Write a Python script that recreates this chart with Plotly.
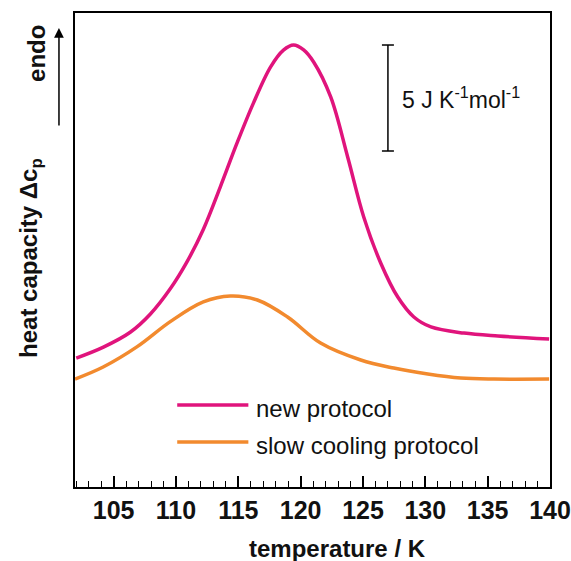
import plotly.graph_objects as go

# ---- data ----
new_T = [102.0, 104.18, 106.33, 107.93, 109.54, 110.88, 112.19, 113.55, 114.90, 116.21,
         117.58, 118.62, 119.43, 120.24, 121.04, 122.41, 123.77, 125.06, 126.42, 127.79,
         129.08, 130.45, 133.10, 135.83, 139.93]
new_cp = [6.08, 6.60, 7.30, 8.15, 9.35, 10.62, 12.15, 14.15, 16.23, 18.11,
          19.81, 20.61, 20.85, 20.62, 20.05, 18.40, 15.57, 12.74, 10.57, 8.96,
          8.02, 7.55, 7.26, 7.12, 6.98]

slow_T = [101.9, 104.16, 106.89, 109.54, 112.19, 114.36, 116.53, 118.95, 121.60, 124.82,
          127.47, 130.20, 132.85, 135.50, 139.93]
slow_cp = [5.09, 5.66, 6.62, 7.80, 8.73, 9.01, 8.82, 8.02, 6.79, 5.99,
           5.61, 5.33, 5.14, 5.09, 5.09]

series_names = ["new protocol", "slow cooling protocol"]
series_colors = ["#E0147C", "#F28A2E"]

x_ticks = [105, 110, 115, 120, 125, 130, 135, 140]
x_range = [101.9, 140.0]
y_range = [0, 22.36]

scale_value = 5          # J K^-1 mol^-1
scale_T = 127.0
scale_top = 20.85

FONT = "Liberation Sans, Arial, sans-serif"

fig = go.Figure()
fig.add_trace(go.Scatter(x=new_T, y=new_cp, mode="lines", name=series_names[0],
                         line=dict(color=series_colors[0], width=3.5, shape="spline", smoothing=1.0)))
fig.add_trace(go.Scatter(x=slow_T, y=slow_cp, mode="lines", name=series_names[1],
                         line=dict(color=series_colors[1], width=3.5, shape="spline", smoothing=1.0)))

fig.update_layout(
    width=571, height=561,
    margin=dict(l=75, r=21, t=13, b=74, autoexpand=False),
    paper_bgcolor="white", plot_bgcolor="white",
    showlegend=False,
    font=dict(family=FONT, color="black"),
)

fig.update_xaxes(
    range=x_range, tickvals=x_ticks, ticks="inside", ticklen=11, tickwidth=1.5,
    tickcolor="black", showline=True, linecolor="black", linewidth=2, mirror=True,
    showgrid=False, zeroline=False, automargin=False,
    tickfont=dict(family=FONT, size=25, color="#111", weight="bold"),
    ticklabelstandoff=0,
    minor=dict(dtick=1, ticks="inside", ticklen=6, tickwidth=1.2, tickcolor="black", showgrid=False),
)
fig.update_yaxes(
    range=y_range, showticklabels=False, ticks="", showline=True, linecolor="black",
    linewidth=2, mirror=True, showgrid=False, zeroline=False, automargin=False,
)

# x title
fig.add_annotation(text="<b>temperature / K</b>", xref="paper", yref="paper",
                   x=(337 - 75) / 474, y=(487 - 548) / 474, showarrow=False,
                   xanchor="center", yanchor="middle", font=dict(size=24, color="#111"))
# y title
fig.add_annotation(text="<b>heat capacity Δc<sub>p</sub></b>", xref="paper", yref="paper",
                   x=(30 - 75) / 474, y=(487 - 258) / 474, showarrow=False, textangle=-90,
                   xanchor="center", yanchor="middle", font=dict(size=24, color="#111"))
# endo label + arrow
fig.add_annotation(text="<b>endo</b>", xref="paper", yref="paper",
                   x=(37 - 75) / 474, y=(487 - 53) / 474, showarrow=False, textangle=-90,
                   xanchor="center", yanchor="middle", font=dict(size=24, color="#111"))
fig.add_annotation(text="", xref="paper", yref="paper",
                   x=(59 - 75) / 474, y=(487 - 28) / 474, ax=0, ay=99,
                   showarrow=True, arrowhead=2, arrowsize=1.3, arrowwidth=1.5, arrowcolor="black")

# scale bar
cap = 0.48
fig.add_shape(type="line", x0=scale_T, x1=scale_T, y0=scale_top - scale_value, y1=scale_top,
              line=dict(color="black", width=1.5))
for yy in (scale_top - scale_value, scale_top):
    fig.add_shape(type="line", x0=scale_T - cap, x1=scale_T + cap, y0=yy, y1=yy,
                  line=dict(color="black", width=1.5))
fig.add_annotation(text="5 J K<sup>-1</sup>mol<sup>-1</sup>", x=scale_T + 1.0,
                   y=scale_top - scale_value / 2, xref="x", yref="y", showarrow=False,
                   xanchor="left", yanchor="middle", font=dict(size=23, color="#111"))

# manual legend
leg_rows = [405, 442]
for name, color, py in zip(series_names, series_colors, leg_rows):
    yp = (487 - py) / 474
    fig.add_shape(type="line", xref="paper", yref="paper",
                  x0=(177 - 75) / 474, x1=(248 - 75) / 474, y0=yp, y1=yp,
                  line=dict(color=color, width=3.5))
    fig.add_annotation(text=name, xref="paper", yref="paper",
                       x=(254 - 75) / 474, y=(487 - py - 3) / 474, showarrow=False,
                       xanchor="left", yanchor="middle", font=dict(size=24, color="#111"))

fig.write_html("out.html", config={"displayModeBar": False},
               post_script="document.body.style.margin='0';document.body.style.overflow='hidden';")
